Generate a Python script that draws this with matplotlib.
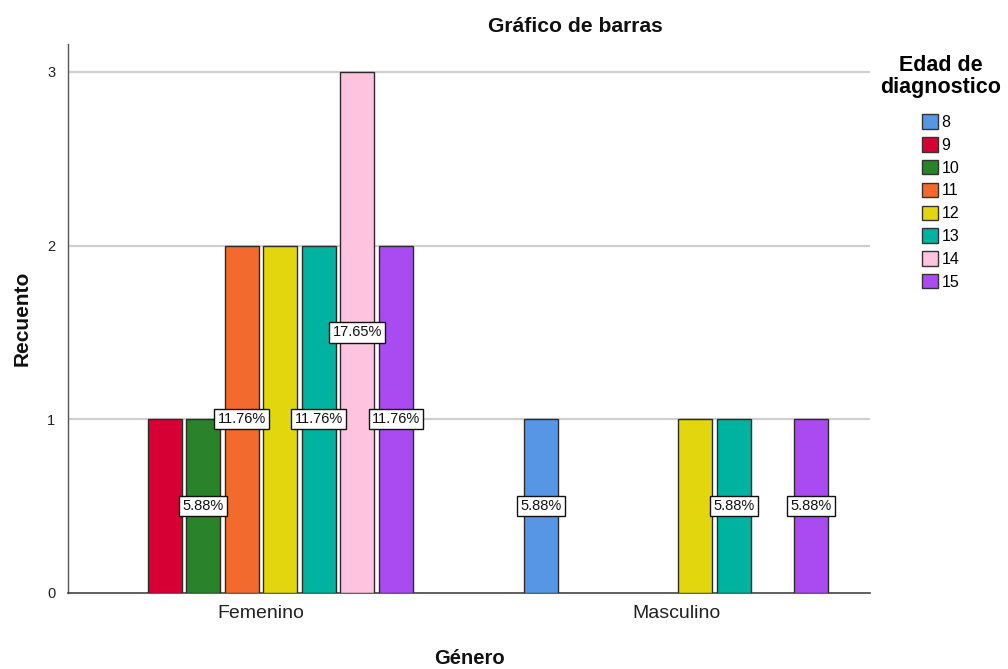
import matplotlib
matplotlib.use('Agg')
import matplotlib.pyplot as plt
import numpy as np
from matplotlib.patches import Patch

plt.rcParams['font.family'] = ['Liberation Sans', 'DejaVu Sans']

# data
generos = ['Femenino', 'Masculino']
edades = ['8', '9', '10', '11', '12', '13', '14', '15']
recuento_fem = [0, 1, 1, 2, 2, 2, 3, 2]
recuento_masc = [1, 0, 0, 0, 1, 1, 0, 1]
# which percentage labels are visible (SPSS hides the overlapping ones)
etiqueta_fem = [False, False, True, True, False, True, True, True]
etiqueta_masc = [True, False, False, False, False, True, False, True]
colores = ['#5796e5', '#d70034', '#2a822a', '#f26a2d', '#e2d70f',
           '#00b3a0', '#fdc3df', '#aa4bf1']

total = sum(recuento_fem) + sum(recuento_masc)
recuentos = [recuento_fem, recuento_masc]
etiquetas = [etiqueta_fem, etiqueta_masc]

fig = plt.figure(figsize=(10.08, 6.69), dpi=100)
ax = fig.add_axes([68/1008, 1-593/669, (870-68)/1008, (593-44)/669])

paso = 0.0928
ancho = 0.082
for g in range(len(generos)):
    for i, c in enumerate(recuentos[g]):
        x = g + (i - 3.5)*paso
        if c > 0:
            ax.bar(x, c, width=ancho, color=colores[i], edgecolor='#2b2b2b',
                   linewidth=1.0, zorder=3)
        if etiquetas[g][i]:
            ax.text(x, c/2, '%.2f%%' % (c/total*100), ha='center', va='center',
                    fontsize=10.5, color='#111111', zorder=5,
                    bbox=dict(boxstyle='square,pad=0.22', fc='white',
                              ec='#111111', lw=1.0))

ax.set_xlim(-0.465, 1.467)
ax.set_ylim(0, 3.16)
ax.set_yticks([0, 1, 2, 3])
ax.set_xticks([0, 1])
ax.set_xticklabels(generos, fontsize=14, color='#222222')
ax.tick_params(axis='y', length=0, pad=9, labelsize=10.5, labelcolor='#222222')
ax.tick_params(axis='x', length=0, pad=9)
for y in [1, 2, 3]:
    ax.axhline(y, color='#cfcfcf', lw=1.6, zorder=1)
for s in ['top', 'right']:
    ax.spines[s].set_visible(False)
ax.spines['left'].set_color('#555555')
ax.spines['bottom'].set_color('#444444')
ax.spines['left'].set_linewidth(1.0)
ax.spines['bottom'].set_linewidth(1.2)

fig.text(575/1008, 1-27/669, 'Gráfico de barras', ha='center', va='center',
         fontsize=15.2, fontweight='bold', color='#111111')
fig.text(22/1008, 1-318/669, 'Recuento', rotation=90, ha='center', va='center',
         fontsize=15, fontweight='bold', color='#111111')
fig.text(469/1008, 1-658/669, 'Género', ha='center', va='center',
         fontsize=14.5, fontweight='bold', color='#111111')

handles = [Patch(facecolor=colores[i], edgecolor='#333333', lw=1.0)
           for i in range(len(edades))]
leg = ax.legend(handles, edades, loc='upper center',
                bbox_to_anchor=(941/1008, 1-47/669),
                bbox_transform=fig.transFigure, frameon=False,
                title='Edad de\ndiagnostico', fontsize=11.5,
                handlelength=1.0, handleheight=1.0, handletextpad=0.2,
                labelspacing=0.45, borderpad=0)
leg.get_title().set_fontweight('bold')
leg.get_title().set_fontsize(15.5)
leg.get_title().set_multialignment('center')
leg.get_title().set_linespacing(1.05)
leg._legend_box.sep = 12

fig.savefig('out.png', dpi=100)
